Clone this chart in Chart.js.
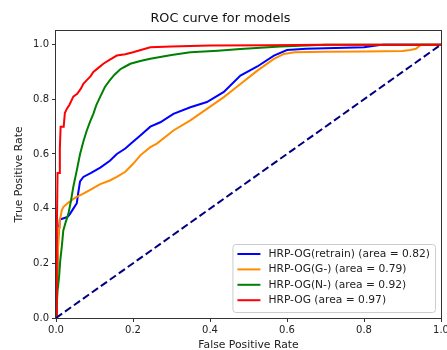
<!DOCTYPE html>
<html lang="en">

<head>
    <meta charset="UTF-8">
    <title>ROC curve for models</title>
    <script src="https://cdn.jsdelivr.net/npm/chart.js@4.4.0/dist/chart.umd.min.js"></script>
    <style>
        body { margin: 0; background: #fff; }
    </style>
</head>

<body>
    <canvas id="chart" width="447" height="350"></canvas>
    <script>
        const xTicks = [0, 0.2, 0.4, 0.6, 0.8, 1.0];
        const yTicks = [0, 0.2, 0.4, 0.6, 0.8, 1.0];

        const labels = [
            'HRP-OG(retrain) (area = 0.82)',
            'HRP-OG(G-) (area = 0.79)',
            'HRP-OG(N-) (area = 0.92)',
            'HRP-OG (area = 0.97)'
        ];
        const colors = ['#0000ff', '#ff8c00', '#008000', '#ff0000'];

        const retrainFpr = [0, 0.003, 0.006, 0.01, 0.02, 0.03, 0.036, 0.045, 0.054, 0.058, 0.0625, 0.071, 0.09, 0.115, 0.14, 0.158, 0.18, 0.2, 0.219, 0.245, 0.271, 0.305, 0.349, 0.392, 0.436, 0.479, 0.523, 0.566, 0.6, 0.65, 0.7, 0.8, 0.85, 1.0];
        const retrainTpr = [0, 0.15, 0.30, 0.36, 0.365, 0.37, 0.38, 0.40, 0.42, 0.46, 0.50, 0.516, 0.53, 0.55, 0.575, 0.60, 0.62, 0.645, 0.668, 0.70, 0.716, 0.747, 0.771, 0.79, 0.827, 0.887, 0.92, 0.96, 0.98, 0.985, 0.987, 0.99, 1.0, 1.0];

        const gMinusFpr = [0, 0.003, 0.006, 0.008, 0.01, 0.015, 0.019, 0.03, 0.05, 0.071, 0.09, 0.115, 0.14, 0.158, 0.18, 0.201, 0.219, 0.245, 0.262, 0.305, 0.349, 0.392, 0.436, 0.479, 0.523, 0.566, 0.592, 0.62, 0.7, 0.8, 0.9, 0.92, 0.935, 0.948, 1.0];
        const gMinusTpr = [0, 0.15, 0.285, 0.33, 0.357, 0.394, 0.406, 0.42, 0.44, 0.455, 0.47, 0.49, 0.503, 0.516, 0.535, 0.565, 0.595, 0.625, 0.638, 0.686, 0.723, 0.765, 0.808, 0.856, 0.905, 0.948, 0.966, 0.972, 0.974, 0.975, 0.977, 0.98, 0.985, 1.0, 1.0];

        const nMinusFpr = [0, 0.002, 0.004, 0.008, 0.011, 0.015, 0.019, 0.025, 0.032, 0.039, 0.045, 0.054, 0.0625, 0.072, 0.08, 0.089, 0.097, 0.105, 0.115, 0.127, 0.14, 0.152, 0.167, 0.18, 0.193, 0.219, 0.245, 0.3, 0.349, 0.42, 0.479, 0.583, 0.7, 1.0];
        const nMinusTpr = [0, 0.05, 0.10, 0.15, 0.21, 0.26, 0.32, 0.35, 0.38, 0.43, 0.48, 0.54, 0.60, 0.65, 0.686, 0.72, 0.747, 0.78, 0.81, 0.845, 0.87, 0.89, 0.91, 0.92, 0.93, 0.94, 0.948, 0.962, 0.972, 0.978, 0.984, 0.993, 1.0, 1.0];

        const fullFpr = [0, 0.002, 0.004, 0.008, 0.01, 0.012, 0.02, 0.023, 0.028, 0.035, 0.045, 0.055, 0.065, 0.071, 0.08, 0.09, 0.097, 0.11, 0.123, 0.14, 0.158, 0.18, 0.2, 0.245, 0.3, 0.4, 0.55, 0.7, 1.0];
        const fullTpr = [0, 0.3, 0.53, 0.53, 0.62, 0.70, 0.70, 0.75, 0.765, 0.78, 0.81, 0.82, 0.84, 0.857, 0.87, 0.885, 0.90, 0.915, 0.93, 0.945, 0.96, 0.965, 0.972, 0.99, 0.993, 0.997, 0.998, 1.0, 1.0];

        const chanceX = [0, 1];
        const chanceY = [0, 1];

        const toPoints = (xs, ys) => xs.map((x, i) => ({ x, y: ys[i] }));
        const series = [
            [retrainFpr, retrainTpr],
            [gMinusFpr, gMinusTpr],
            [nMinusFpr, nMinusTpr],
            [fullFpr, fullTpr]
        ];

        const datasets = series.map(([xs, ys], i) => ({
            label: labels[i],
            data: toPoints(xs, ys),
            borderColor: colors[i],
            borderWidth: 2,
            pointRadius: 0,
            fill: false,
            tension: 0,
            order: 4 - i
        }));
        datasets.push({
            label: 'chance',
            data: toPoints(chanceX, chanceY),
            borderColor: '#000080',
            borderWidth: 2,
            borderDash: [7.5, 3.5],
            pointRadius: 0,
            fill: false,
            order: 0
        });

        // box round the plot area
        const frame = {
            id: 'frame',
            afterDraw(chart) {
                const { ctx, chartArea: a } = chart;
                ctx.save();
                ctx.strokeStyle = '#333';
                ctx.lineWidth = 1;
                ctx.strokeRect(Math.round(a.left) - 0.5, Math.round(a.top) - 0.5,
                    Math.round(a.right - a.left) + 1, Math.round(a.bottom - a.top) + 1);
                ctx.restore();
            }
        };

        // matplotlib style legend, lower right inside the axes
        const boxLegend = {
            id: 'boxLegend',
            afterDatasetsDraw(chart) {
                const { ctx, chartArea: a } = chart;
                ctx.save();
                ctx.font = '10.7px "DejaVu Sans"';
                const textW = Math.max(...labels.map(t => ctx.measureText(t).width));
                const w = textW + 41, h = 68, row = 15.4;
                const right = a.right - 6, bottom = a.bottom - 6;
                const left = right - w, top = bottom - h;
                ctx.beginPath();
                ctx.roundRect(left + 0.5, top + 0.5, w, h, 3);
                ctx.fillStyle = 'rgba(255,255,255,0.8)';
                ctx.fill();
                ctx.strokeStyle = '#cccccc';
                ctx.lineWidth = 1;
                ctx.stroke();
                labels.forEach((t, i) => {
                    const y = top + 10 + i * row;
                    ctx.beginPath();
                    ctx.moveTo(left + 5, y);
                    ctx.lineTo(left + 28, y);
                    ctx.strokeStyle = colors[i];
                    ctx.lineWidth = 2;
                    ctx.stroke();
                    ctx.fillStyle = '#222';
                    ctx.textBaseline = 'middle';
                    ctx.fillText(t, left + 36, y);
                });
                ctx.restore();
            }
        };

        const tickFont = { family: '"DejaVu Sans"', size: 10 };

        new Chart(document.getElementById('chart'), {
            type: 'line',
            data: { datasets },
            plugins: [frame, boxLegend],
            options: {
                responsive: false,
                animation: false,
                layout: { padding: { left: 0, right: 6, top: 0, bottom: 0 } },
                plugins: {
                    legend: { display: false },
                    tooltip: { enabled: false },
                    title: {
                        display: true,
                        text: 'ROC curve for models',
                        color: '#111',
                        font: { family: '"DejaVu Sans"', size: 12.8, weight: 'normal', lineHeight: 1.2 },
                        padding: { top: 11, bottom: 4.6 }
                    }
                },
                scales: {
                    x: {
                        type: 'linear',
                        min: 0,
                        max: 1,
                        afterBuildTicks(scale) { scale.ticks = xTicks.map(v => ({ value: v })); },
                        afterFit(scale) { scale.height = 32; scale.paddingLeft = 0; scale.paddingRight = 0; },
                        ticks: {
                            color: '#222',
                            font: tickFont,
                            padding: 2,
                            maxRotation: 0,
                            callback: v => v.toFixed(1)
                        },
                        grid: { drawOnChartArea: false, drawTicks: true, tickLength: 4, color: '#333' },
                        border: { display: false },
                        title: {
                            display: true,
                            text: 'False Positive Rate',
                            color: '#222',
                            font: { family: '"DejaVu Sans"', size: 10.8, lineHeight: 1 },
                            padding: { top: 0, bottom: -0.5 }
                        }
                    },
                    y: {
                        type: 'linear',
                        min: 0,
                        max: 1.05,
                        afterBuildTicks(scale) { scale.ticks = yTicks.map(v => ({ value: v })); },
                        afterFit(scale) { scale.width = 56; scale.paddingTop = 0; scale.paddingBottom = 0; },
                        ticks: {
                            color: '#222',
                            font: tickFont,
                            padding: 3,
                            callback: v => v.toFixed(1)
                        },
                        grid: { drawOnChartArea: false, drawTicks: true, tickLength: 4, color: '#333' },
                        border: { display: false },
                        title: {
                            display: true,
                            text: 'True Positive Rate',
                            color: '#222',
                            font: { family: '"DejaVu Sans"', size: 10.8, lineHeight: 1 },
                            padding: { top: 14, bottom: 0 }
                        }
                    }
                }
            }
        });
    </script>
</body>

</html>
